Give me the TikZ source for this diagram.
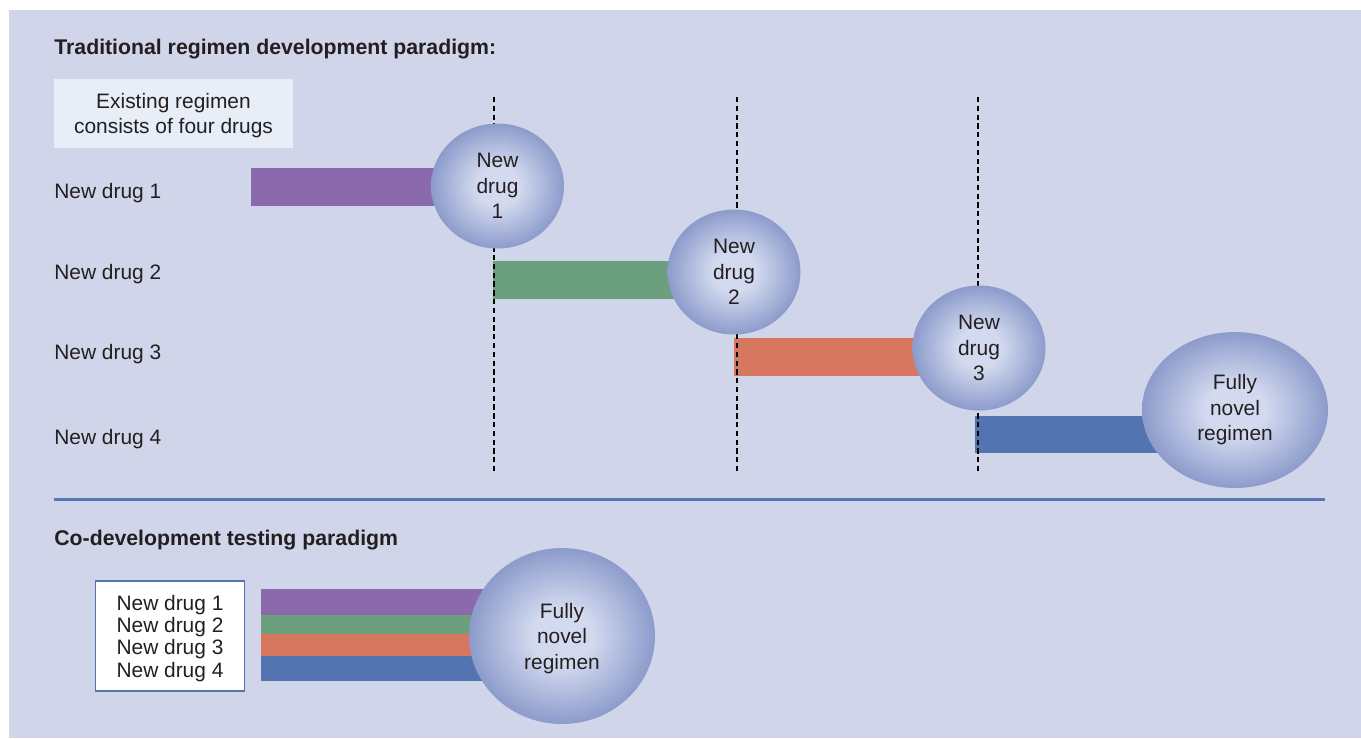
\documentclass[tikz,border=0pt]{standalone}
\usepackage{fontspec}
\setmainfont{Liberation Sans}
\usetikzlibrary{shapes.geometric}

\definecolor{bgcol}{HTML}{D0D5E9}
\definecolor{boxcol}{HTML}{E8EEF8}
\definecolor{drugA}{HTML}{8A69AC}
\definecolor{drugB}{HTML}{6C9F7E}
\definecolor{drugC}{HTML}{D87760}
\definecolor{drugD}{HTML}{5373B1}
\definecolor{rulecol}{HTML}{5678B8}
\definecolor{bubin}{HTML}{D3DAEF}
\definecolor{bubout}{HTML}{8C9BCB}
\definecolor{txt}{HTML}{231F20}

\pgfdeclareradialshading{bubshade}{\pgfpoint{0bp}{0bp}}{color(0bp)=(bubin); color(8bp)=(bubin); color(25bp)=(bubout); color(50bp)=(bubout)}
\pgfdeclarelayer{bg}
\pgfdeclarelayer{mid}
\pgfsetlayers{bg,mid,main}

\tikzset{
  every node/.style={font=\fontsize{11.9}{14.5}\selectfont, text=txt},
  head/.style={anchor=west, inner sep=0pt, font=\fontsize{12.1}{14.5}\selectfont\bfseries},
  lbl/.style={anchor=west, inner sep=0pt},
  bubble/.style={ellipse, shading=bubshade, inner sep=0pt, align=center,
    minimum width=2.66cm, minimum height=2.5cm},
  big/.style={bubble, minimum width=3.72cm, minimum height=3.12cm},
  bar/.style={line width=21.6pt},
  guide/.style={black, line width=0.8pt, dash pattern=on 3pt off 2pt}
}

\begin{document}
\begin{tikzpicture}[x=0.02cm, y=-0.02cm]
\useasboundingbox (0,0) rectangle (1361,738);
\begin{pgfonlayer}{bg}
  \fill[bgcol] (9,10) rectangle (1361,738);
\end{pgfonlayer}

% traditional paradigm
\node[head] (head1) at (54,49) {Traditional regimen development paradigm:};
\node[fill=boxcol, inner sep=0pt, minimum width=4.78cm, minimum height=1.38cm,
  align=center, text depth=0pt, font=\fontsize{11.9}{14.3}\selectfont] (exist) at (173.5,113.5)
  {Existing regimen\\consists of four drugs};
\foreach \i/\y in {1/193,2/274,3/354,4/439}
  \node[lbl] (row\i) at (54,\y) {New drug \i};

\node[bubble] (nd1) at (497.5,186) {New\\drug\\1};
\node[bubble] (nd2) at (734,272) {New\\drug\\2};
\node[bubble] (nd3) at (979,348) {New\\drug\\3};
\node[big] (novel) at (1235,410) {Fully\\novel\\regimen};

\begin{pgfonlayer}{mid}
  \draw[bar, drugA] (251,187) -- (nd1.center |- 0,187);
  \draw[bar, drugB] (493,280) -- (nd2.center |- 0,280);
  \draw[bar, drugC] (734,357) -- (nd3.center |- 0,357);
  \draw[bar, drugD] (975,434.5) -- (novel.center |- 0,434.5);
  \foreach \x in {494,737,978}
    \draw[guide] (\x,97) -- (\x,473);
\end{pgfonlayer}

\draw[rulecol, line width=1.7pt] (54,499) -- (1325,499);

% co-development paradigm
\node[head] (head2) at (54,540) {Co-development testing paradigm};
\node[draw=drugD, fill=white, line width=0.6pt, inner sep=0pt, minimum width=2.98cm,
  minimum height=2.2cm, align=center, text depth=0pt, font=\fontsize{11.9}{12.7}\selectfont] (list) at (170,636)
  {New drug 1\\New drug 2\\New drug 3\\New drug 4};
\node[big, minimum width=3.72cm, minimum height=3.52cm, text depth=0pt] (novelb) at (562,636) {Fully\\novel\\regimen};

\begin{pgfonlayer}{mid}
  \fill[drugA] (261,589) rectangle (novelb.center |- 0,615);
  \fill[drugB] (261,615) rectangle (novelb.center |- 0,634);
  \fill[drugC] (261,634) rectangle (novelb.center |- 0,656);
  \fill[drugD] (261,656) rectangle (novelb.center |- 0,681);
\end{pgfonlayer}
\end{tikzpicture}
\end{document}
